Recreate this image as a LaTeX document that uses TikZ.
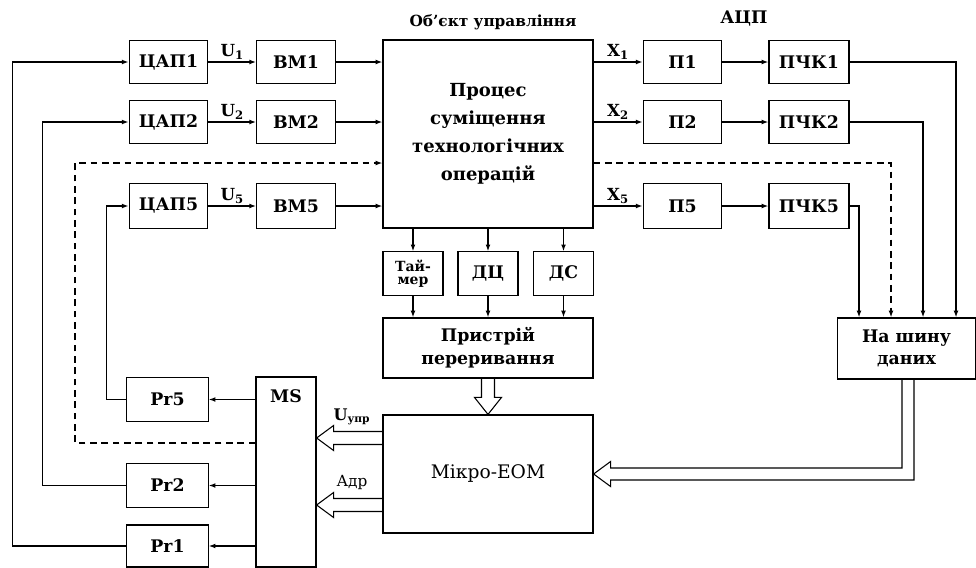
\documentclass[tikz,border=0pt]{standalone}
\usepackage{fontspec}
\setmainfont{DejaVu Serif}
\usepackage{tikz}
\usetikzlibrary{arrows.meta, positioning, calc}

\begin{document}
\begin{tikzpicture}[
  x=0.75pt, y=-0.75pt,
  line width=0.9pt,
  >={Latex[length=5pt, width=3.6pt]},
  blk/.style ={rectangle, draw, inner sep=0pt,
               minimum width=59pt, minimum height=32.5pt,
               font=\fontsize{13}{15}\selectfont\bfseries},
  sens/.style={blk, minimum width=45pt},
  regb/.style={blk, minimum width=61pt, minimum height=33.5pt},
  big/.style ={rectangle, draw, inner sep=2pt, align=center,
               minimum width=157.5pt},
  lbl/.style ={font=\fontsize{12.5}{14}\selectfont\bfseries, inner sep=1.5pt},
  dline/.style={dashed, dash pattern=on 5pt off 3.5pt},
  hollow/.style={line width=0.8pt, line join=miter},
]
\useasboundingbox (0,0) rectangle (976,568);

%% --- titles ---
\node[lbl, font=\fontsize{11.5}{13}\selectfont\bfseries] (tobj) at (493,22) {Об'єкт управління};
\node[lbl, font=\fontsize{13}{15}\selectfont\bfseries] (tadc) at (744,19) {АЦП};

%% --- left: DAC and actuators ---
\node[blk] (dac1) at (168.5,62)  {ЦАП1};
\node[blk] (dac2) at (168.5,122) {ЦАП2};
\node[blk, minimum height=34pt] (dac5) at (168.5,206) {ЦАП5};
\node[blk] (vm1) at (296,62)  {ВМ1};
\node[blk] (vm2) at (296,122) {ВМ2};
\node[blk, minimum height=34pt] (vm5) at (296,206) {ВМ5};

%% --- control object ---
\node[big, minimum height=141pt,
      font=\fontsize{13.5}{21}\selectfont\bfseries] (proc) at (488,134)
  {Процес\\суміщення\\технологічних\\операцій};

%% --- right: ADC ---
\node[blk] (p1) at (682.5,62)  {П1};
\node[blk] (p2) at (682.5,122) {П2};
\node[blk, minimum height=34pt] (p5) at (682.5,206) {П5};
\node[blk, minimum width=60pt] (pchk1) at (809,62)  {ПЧК1};
\node[blk, minimum width=60pt] (pchk2) at (809,122) {ПЧК2};
\node[blk, minimum width=60pt, minimum height=34pt] (pchk5) at (809,206) {ПЧК5};

%% --- sensors ---
\node[sens, align=center, font=\fontsize{10.5}{9.5}\selectfont\bfseries] (tmr) at (413,273.5) {Тай-\\мер};
\node[sens] (dc) at (488,273.5) {ДЦ};
\node[sens] (ds) at (563.5,273.5) {ДС};

\node[big, minimum height=45pt, font=\fontsize{13}{17}\selectfont\bfseries] (prist) at (488,348)
  {Пристрій\\переривання};
\node[big, minimum height=88.5pt, font=\fontsize{14}{16}\selectfont] (micro) at (488,474) {Мікро-ЕОМ};

\node[rectangle, draw, minimum width=103pt, minimum height=45.75pt, align=center,
      font=\fontsize{13}{17}\selectfont\bfseries] (bus) at (906.5,348.5)
  {На шину\\даних};

%% --- demultiplexer and registers ---
\node[rectangle, draw, minimum width=45pt, minimum height=142.5pt,
      label={[font=\fontsize{13}{15}\selectfont\bfseries, anchor=north, yshift=-6pt]north:MS}]
  (ms) at (286,472) {};
\node[regb] (pr5) at (167.5,399.5) {Pr5};
\node[regb] (pr2) at (167.5,485.5) {Pr2};
\node[regb, minimum height=31.5pt] (pr1) at (167.5,546) {Pr1};

%% --- signal lines ---
\draw[->] (dac1) -- node[lbl, above] {U\textsubscript{1}} (vm1);
\draw[->] (dac2) -- node[lbl, above] {U\textsubscript{2}} (vm2);
\draw[->] (dac5) -- node[lbl, above] {U\textsubscript{5}} (vm5);
\draw[->] (vm1) -- (proc.west |- vm1);
\draw[->] (vm2) -- (proc.west |- vm2);
\draw[->] (vm5) -- (proc.west |- vm5);

\draw[->] (proc.east |- p1) -- node[lbl, above] {X\textsubscript{1}} (p1);
\draw[->] (proc.east |- p2) -- node[lbl, above] {X\textsubscript{2}} (p2);
\draw[->] (proc.east |- p5) -- node[lbl, above] {X\textsubscript{5}} (p5);
\draw[->] (p1) -- (pchk1);
\draw[->] (p2) -- (pchk2);
\draw[->] (p5) -- (pchk5);

\draw[->] (pchk1) -| ($(bus.north)+(49.5,0)$);
\draw[->] (pchk2) -| ($(bus.north)+(16.5,0)$);
\draw[->] (pchk5) -| ($(bus.north)+(-47.5,0)$);
\draw[->, dline] (proc.east |- 0,163) -| ($(bus.north)+(-15.5,0)$);

\foreach \s in {tmr, dc, ds} {
  \draw[->] (proc.south -| \s) -- (\s);
  \draw[->] (\s) -- (\s |- prist.north);
}

%% --- registers back to DAC ---
\draw[->] (ms.west |- pr5) -- (pr5);
\draw[->] (ms.west |- pr2) -- (pr2);
\draw[->] (ms.west |- pr1) -- (pr1);
\draw[->] (pr5.west) -- ++(-20,0) |- (dac5.west);
\draw[->] (pr2.west) -- ++(-84,0) |- (dac2.west);
\draw[->] (pr1.west) -- ++(-114,0) |- (dac1.west);
\draw[->, dline] (ms.west |- 0,443) -| (75,163) -- (proc.west |- 0,163);

%% --- buses (hollow arrows) ---
\draw[hollow] ($(prist.south)+(-6.5,0)$) -- ($(micro.north)+(-6.5,-17)$) -- ++(-7,0)
  -- (micro.north) -- ++(13.5,-17) -- ++(-7,0) -- ($(prist.south)+(6.5,0)$);

\coordinate (uupr) at ($(micro.west)+(0,-36)$);
\coordinate (adr)  at ($(micro.west)+(0,31)$);
\foreach \c in {uupr, adr} {
  \draw[hollow] ($(\c)+(0,-6.5)$) -- ($(ms.east |- \c)+(17,-6.5)$) -- ++(0,-6)
    -- (ms.east |- \c) -- ++(17,12.5) -- ++(0,-6) -- ($(\c)+(0,6.5)$);
}
\node[lbl, font=\fontsize{12}{14}\selectfont\bfseries] (luupr) at (352,417) {U\textsubscript{упр}};
\node[lbl, font=\fontsize{11.5}{14}\selectfont] (ladr) at (352,482) {Адр};

\draw[hollow] ($(bus.south)+(-4.5,0)$) |- ($(micro.east)+(17,-6)$) -- ++(0,-6.5)
  -- (micro.east) -- ++(17,12.5) -- ++(0,-6.5) -| ($(bus.south)+(7.5,0)$);
\end{tikzpicture}
\end{document}
